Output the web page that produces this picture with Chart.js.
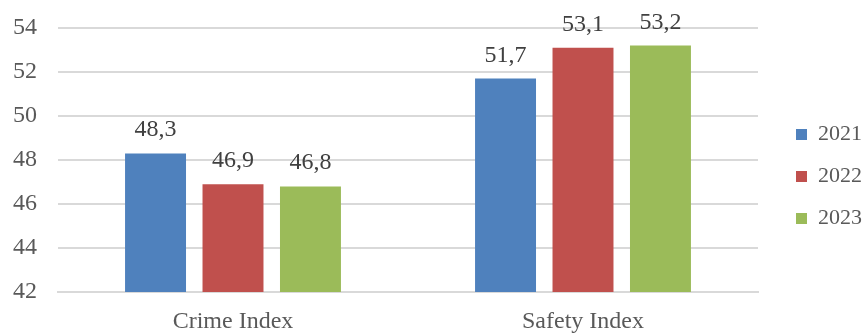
<!DOCTYPE html>
<html>
<head>
<meta charset="utf-8">
<script src="https://cdn.jsdelivr.net/npm/chart.js@4/dist/chart.umd.min.js"></script>
<style>
  html, body { margin: 0; padding: 0; background: #fff; }
  #wrap { width: 866px; height: 334px; }
</style>
</head>
<body>
<div id="wrap"><canvas id="chart"></canvas></div>
<script>
const categories = ["Crime Index", "Safety Index"];
const years = ["2021", "2022", "2023"];
const values2021 = [48.3, 51.7];
const values2022 = [46.9, 53.1];
const values2023 = [46.8, 53.2];
const yTicks = [42, 44, 46, 48, 50, 52, 54];

const colors = ["#4F81BD", "#C0504D", "#9BBB59"];
const fontFamily = "'Liberation Serif', 'Times New Roman', serif";

// draws the value over each bar, with a comma decimal
const valueLabels = {
    id: "valueLabels",
    afterDatasetsDraw(chart){
        let ctx = chart.ctx;
        ctx.save();
        ctx.font = "24px " + fontFamily;
        ctx.fillStyle = "#404040";
        ctx.textAlign = "center";
        ctx.textBaseline = "alphabetic";
        chart.data.datasets.forEach(function(ds, i){
            let meta = chart.getDatasetMeta(i);
            meta.data.forEach(function(bar, j){
                let txt = ds.data[j].toFixed(1).replace(".", ",");
                ctx.fillText(txt, bar.x, bar.y - 17);
            });
        });
        ctx.restore();
    }
};

let series = [values2021, values2022, values2023];
let datasets = [];
for(let i = 0; i < years.length; i++){
    datasets.push({
        label: years[i],
        data: series[i],
        backgroundColor: colors[i],
        borderWidth: 0,
        categoryPercentage: 0.664,
        barPercentage: 0.787
    });
}

new Chart(document.getElementById("chart"), {
    type: "bar",
    data: { labels: categories, datasets: datasets },
    plugins: [valueLabels],
    options: {
        responsive: true,
        maintainAspectRatio: false,
        animation: false,
        layout: { padding: { top: 19, left: 0, right: -6, bottom: 0 } },
        plugins: {
            legend: {
                position: "right",
                labels: {
                    boxWidth: 11,
                    boxHeight: 11,
                    padding: 20,
                    color: "#595959",
                    font: { family: fontFamily, size: 22 }
                }
            },
            tooltip: { enabled: false }
        },
        scales: {
            x: {
                grid: { display: false },
                border: { display: true, color: "#D9D9D9", width: 2 },
                ticks: { color: "#595959", padding: 7, font: { family: fontFamily, size: 24 } },
                afterFit(scale){ scale.height = 42; }
            },
            y: {
                min: 42,
                max: 54,
                afterBuildTicks(scale){ scale.ticks = yTicks.map(v => ({ value: v })); },
                grid: { color: "#D9D9D9", lineWidth: 2, drawTicks: false },
                border: { display: false },
                ticks: { color: "#595959", padding: 21, font: { family: fontFamily, size: 24 } },
                afterFit(scale){
                    scale.width = 58;
                    scale.paddingTop = 28;
                    scale.paddingBottom = 0;
                }
            },
            pad: {
                position: "right",
                display: true,
                grid: { display: false },
                border: { display: false },
                ticks: { display: false },
                afterFit(scale){ scale.width = 18; }
            }
        }
    }
});
</script>
</body>
</html>
